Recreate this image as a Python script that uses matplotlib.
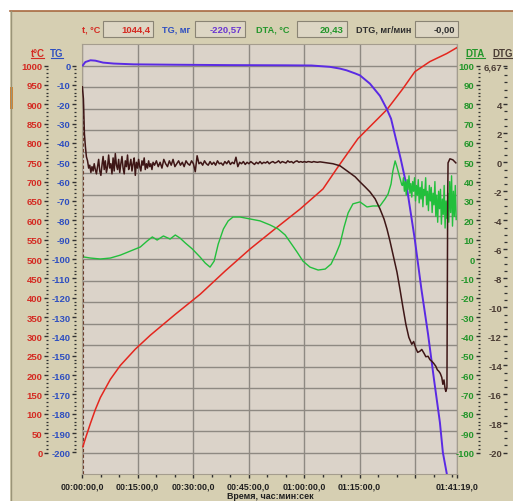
import numpy as np
import matplotlib.pyplot as plt
from matplotlib.patches import Rectangle
from matplotlib.lines import Line2D
from matplotlib.ticker import FixedLocator, MultipleLocator

plt.rcParams['font.family'] = ['Liberation Sans', 'DejaVu Sans']
plt.rcParams['font.weight'] = 'bold'
plt.rcParams['axes.unicode_minus'] = False

W, H = 513, 502

# ---- data (time in minutes) ----
t_time = [0.24, 0.65, 1.19, 2.27, 3.61, 4.96, 7.66, 10.36, 14.4, 18.45, 25.19, 31.94,
          38.68, 45.42, 52.17, 58.91, 65.11, 69.16, 74.55, 82.38, 86.69, 89.93, 93.97,
          98.56, 101.26]
t_vals = [15, 28, 44, 75, 111, 142, 189, 225, 267, 303, 357, 409, 469, 526, 578, 629,
          681, 738, 811, 886, 940, 984, 1010, 1031, 1046]

tg_time = [0.2, 0.9, 2.3, 3.6, 5.7, 8.6, 14, 25, 40, 55, 62, 67.0, 69.7, 71.5, 73.8,
           75.1, 77.8, 80.5, 82.3, 83.5, 84.5, 86.1, 87.7, 89.9, 91.7, 93.5, 95.1, 96.7,
           97.5, 98.6, 99.3]
tg_vals = [0.0, 1.8, 2.7, 2.5, 1.5, 1.0, 0.6, 0.4, 0.2, 0.1, 0.0, -0.7, -1.6, -2.5, -4.1,
           -5.1, -9.4, -15.7, -22.3, -27.5, -35.5, -48.2, -62.2, -89.7, -115.6, -138.9,
           -162.2, -184.5, -200.0, -211.4, -220.57]

dtg_start_time = [0.1, 0.38, 0.65, 0.92, 1.19]
dtg_start_vals = [5.2, 4.38, 1.97, 1.07, 0.38]
# noisy baseline, 1.5 min .. step 0.3 min
dtg_noise1 = [0.1, -0.4, -0.2, -0.7, -0.3, -0.6, -0.1, -0.5, -0.8, -0.3, 0.2, -0.6, -0.9,
              -0.2, 0.4, -0.5, 0.1, -0.7, -0.3, 0.5, -0.4, -0.1, -0.8, 0.3, -0.6, 0.6,
              -0.2, -0.5, 0.2, -0.7, -0.1, 0.4, -0.4, -0.8, 0.1, -0.3, 0.5, -0.5, -0.2,
              0.2, -0.6, -0.1, 0.3, -0.9, 0.0, -0.4, 0.2, -0.3, -0.6, 0.1, -0.2, 0.3,
              -0.5, -0.1, -0.4, 0.1, -0.3, -0.1, -0.5, 0.0]
# quieter baseline, 19.6 min .. step 0.5 min
dtg_noise2 = [-0.2, 0.1, -0.3, 0.0, -0.4, 0.2, -0.1, -0.3, 0.1, -0.2, 0.2, -0.3, -0.1,
              0.1, -0.2, 0.0, -0.3, 0.1, -0.1, -0.2, 0.1, -0.1, -0.65, 0.45, -0.1, 0.0,
              -0.2, 0.1, -0.1, -0.2, 0.05, -0.15, 0.0, -0.2, 0.1, -0.1, -0.05, -0.2, 0.05,
              -0.1, 0.1, -0.15, 0.0, -0.1, 0.35, -0.3, 0.0, -0.1, 0.05, -0.15, 0.0, -0.1,
              0.05, -0.05, -0.15, 0.0, -0.1, 0.05, -0.1, 0.0, -0.05, 0.05, -0.1, 0.0, 0.05,
              -0.05, 0.0, 0.1, -0.05, 0.05, 0.0, -0.05, 0.1, 0.0, 0.05, -0.05, 0.05, 0.1,
              0.0, 0.05, 0.0, 0.05, 0.0, 0.05, 0.03, 0.0, 0.05, 0.02, 0.0]
dtg_end_time = [64.3, 67.8, 69.7, 71.6, 73.8, 75.1, 76.5, 77.8, 79.2, 80.5, 81.6, 82.4,
                83.2, 83.7, 84.5, 85.1, 85.9, 86.7, 87.5, 88.3, 89.1, 89.6, 90.2, 90.7,
                91.3, 91.8, 92.4, 92.9, 93.5, 94.0, 94.5, 95.0, 95.6, 96.0, 96.4, 96.8,
                97.2, 97.5, 97.8, 98.1, 98.3, 98.6, 98.7, 98.8, 98.9, 99.4, 100.2, 101.0]
dtg_end_vals = [0.03, -0.1, -0.24, -0.59, -1.0, -1.35, -1.7, -2.04, -2.52, -3.21, -3.91,
                -4.6, -5.42, -5.98, -6.88, -7.57, -8.74, -9.98, -11.16, -12.06, -12.54,
                -12.35, -12.82, -13.1, -13.02, -12.9, -13.16, -13.4, -13.37, -13.6, -13.71,
                -13.85, -14.06, -14.3, -14.4, -14.55, -14.82, -15.3, -15.0, -15.6, -15.79,
                -15.51, -9.43, -2.52, -0.04, 0.24, 0.17, -0.04]

dta_time = [0.65, 2.27, 4.96, 7.66, 10.36, 13.06, 15.75, 17.6, 19.0, 20.3, 22.0, 23.8,
            25.2, 26.5, 27.9, 29.8, 31.9, 33.3, 34.6, 35.7, 36.8, 38.2, 39.5, 40.8, 42.7,
            45.4, 48.1, 50.8, 53.0, 54.9, 56.8, 58.1, 59.7, 61.6, 63.8, 65.7, 67.3, 68.6,
            69.7, 70.8, 71.9, 73.2, 75.1, 77.0, 78.6, 80.5, 81.9, 82.7, 83.5, 84.0, 84.6,
            85.1, 85.6, 86.4]
dta_vals = [1.0, 0.5, 0.0, 0.5, 2.0, 4.1, 6.2, 9.3, 11.4, 9.8, 11.9, 10.3, 12.4, 10.8, 8.3,
            5.2, 1.0, -2.1, -4.2, -1.1, 7.7, 15.5, 19.7, 21.7, 21.7, 20.7, 19.7, 17.6, 15.5,
            12.4, 7.2, 3.6, -1.1, -4.2, -5.7, -5.2, -2.6, 2.6, 7.7, 16.5, 23.8, 28.5, 29.5,
            26.9, 27.4, 27.4, 31.1, 33.6, 38.8, 45.6, 50.7, 47.6, 44.0, 38.3]
# noisy tail, 86.6 min .. step 0.25 min
dta_noise = [38, 42, 35, 40, 33, 41, 36, 43, 34, 39,
             32, 40, 35, 42, 30, 38, 33, 41, 29, 37,
             31, 40, 27, 36, 33, 42, 28, 35, 25, 38,
             30, 37, 24, 34, 28, 40, 22, 33, 19, 35,
             26, 36, 18, 31, 23, 38, 16, 30, 21, 34,
             19, 40, 24, 43, 17, 35, 22, 38, 20.4]

x_major = [0, 15, 30, 45, 60, 75, 90, 101 + 19 / 60]
x_labels = ['00:00:00,0', '00:15:00,0', '00:30:00,0', '00:45:00,0', '01:00:00,0',
            '01:15:00,0', '', '01:41:19,0']
t_ticks = list(range(0, 1001, 50))
tg_ticks = list(range(-200, 1, 10))
dta_ticks = list(range(-100, 101, 10))
dtg_ticks = [6.67, 4, 2, 0, -2, -4, -6, -8, -10, -12, -14, -16, -18, -20]
dtg_labels = ['6,67', '4', '2', '0', '-2', '-4', '-6', '-8', '-10', '-12', '-14', '-16',
              '-18', '-20']

dtg_time = (dtg_start_time + list(1.5 + 0.3 * np.arange(len(dtg_noise1)))
            + list(19.6 + 0.5 * np.arange(len(dtg_noise2))) + dtg_end_time)
dtg_vals = dtg_start_vals + dtg_noise1 + dtg_noise2 + dtg_end_vals
dta_time = dta_time + list(86.6 + 0.25 * np.arange(len(dta_noise)))
dta_vals = dta_vals + dta_noise

RED, BLUE, GREEN, DARK = '#d42a22', '#2e4fc0', '#23962a', '#4a3c34'

fig = plt.figure(figsize=(W / 100, H / 100), dpi=100, facecolor='white')
fig.patches.append(Rectangle((10 / W, 0), 1, 1 - 12 / H, transform=fig.transFigure,
                             facecolor='#d6cfb2', edgecolor='none', zorder=-10))
fig.add_artist(Line2D([10 / W, 1], [1 - 12 / H] * 2, color='#a86a40', lw=1.2))
fig.add_artist(Line2D([10.5 / W] * 2, [0, 1 - 12 / H], color='#9a9478', lw=1.0))
fig.patches.append(Rectangle((10 / W, 1 - 110 / H), 2.5 / W, 22 / H, transform=fig.transFigure,
                             facecolor='#d8822c', edgecolor='none'))

ax = fig.add_axes([82 / W, 1 - 475 / H, 375 / W, 430 / H])
ax.set_facecolor('#dbd3c9')
step = 1000 / 18
ax.set_xlim(0, x_major[-1])
ax.set_ylim(-step, 1000 + step)
ax.set_yticks(np.arange(19) * step)
ax.tick_params(axis='y', length=0, labelleft=False, labelright=False)
ax.set_xticks(x_major)
ax.set_xticklabels(x_labels)
ax.xaxis.set_minor_locator(MultipleLocator(5))
ax.tick_params(axis='x', which='major', length=3, width=1, color='#303030', pad=2.5,
               labelsize=6.4, labelcolor='#202020')
ax.tick_params(axis='x', which='minor', length=2, width=1, color='#303030')
ax.grid(True, which='major', color='#8e8982', lw=1.0)
for s in ax.spines.values():
    s.set_color('#a59d8e')
    s.set_linewidth(0.8)
ax.axvline(0.15, ymax=0.86, color='#6a3a28', lw=0.8, ls=(0, (3, 2)))


def side_axis(lim, pos, ticks, minor, color, labels=None):
    tw = ax.twinx()
    tw.set_ylim(*lim)
    for s in tw.spines.values():
        s.set_visible(False)
    tw.yaxis.tick_left()
    tw.spines['left'].set_position(('axes', pos))
    tw.yaxis.set_major_locator(FixedLocator(ticks))
    tw.yaxis.set_minor_locator(FixedLocator(minor))
    if labels is not None:
        tw.set_yticklabels(labels)
    tw.tick_params(axis='y', which='major', length=3, width=1, pad=1, color='#303030',
                   labelcolor=color, labelsize=6.8)
    tw.tick_params(axis='y', which='minor', length=1.2, width=0.9, color='#303030')
    return tw


lo, hi = -step, 1000 + step
ax_t = side_axis((lo, hi), (48 - 82) / 375, t_ticks, list(range(0, 1001, 10)), RED)
ax_tg = side_axis((lo / 5 - 200, hi / 5 - 200), (76 - 82) / 375, tg_ticks,
                  list(range(-200, 1, 2)), BLUE)
ax_dta = side_axis((lo / 5 - 100, hi / 5 - 100), (480 - 82) / 375, dta_ticks,
                   list(range(-100, 101, 2)), GREEN)
k = 26.67 / 1000
ax_dtg = side_axis((lo * k - 20, hi * k - 20), (507.5 - 82) / 375, dtg_ticks,
                   list(np.arange(-20, 6.6, 0.5)), DARK, dtg_labels)
ax_dtg.tick_params(axis='y', which='minor', length=2)

ax_t.plot(t_time, t_vals, color='#e4261e', lw=1.1)
ax_dta.plot(dta_time, dta_vals, color='#22bf3c', lw=1.0)
ax_dtg.plot(dtg_time, dtg_vals, color='#3e1616', lw=1.1)
ax_tg.plot(tg_time, tg_vals, color='#5a2ae4', lw=1.4)

# axis captions
for txt, xc, x0, x1, col in [('t°C', 37.5, 31, 44, RED), ('TG', 57, 51, 63, BLUE),
                             ('DTA', 475.5, 466, 485, GREEN), ('DTG', 503, 493, 513, DARK)]:
    fig.text(xc / W, 1 - 54 / H, txt, color=col, fontsize=7, ha='center', va='center')
    fig.add_artist(Line2D([x0 / W, x1 / W], [1 - 59 / H] * 2, color=col, lw=0.8))

# header readouts
header = [('t, °C', 100, 103, 153, '1044,4', RED, RED),
          ('TG, мг', 190, 195, 245, '-220,57', BLUE, '#6a36d0'),
          ('DTA, °C', 290, 297, 347, '20,43', GREEN, GREEN),
          ('DTG, мг/мин', 411, 415, 458, '-0,00', '#303030', '#303030')]
for name, xr, b0, b1, val, c1, c2 in header:
    fig.text(xr / W, 1 - 30 / H, name, color=c1, fontsize=6.6, ha='right', va='center')
    fig.patches.append(Rectangle((b0 / W, 1 - 38 / H), (b1 - b0) / W, 16 / H,
                                 transform=fig.transFigure, facecolor='#ddd6c4',
                                 edgecolor='#8a8474', lw=0.8))
    fig.text((b1 - 3) / W, 1 - 30 / H, val, color=c2, fontsize=6.8, ha='right', va='center')

fig.text(270 / W, 1 - 497 / H, 'Время, час:мин:сек', color='#202020', fontsize=6.4,
         ha='center', va='center')

fig.savefig('out.png', dpi=100, facecolor=fig.get_facecolor())
